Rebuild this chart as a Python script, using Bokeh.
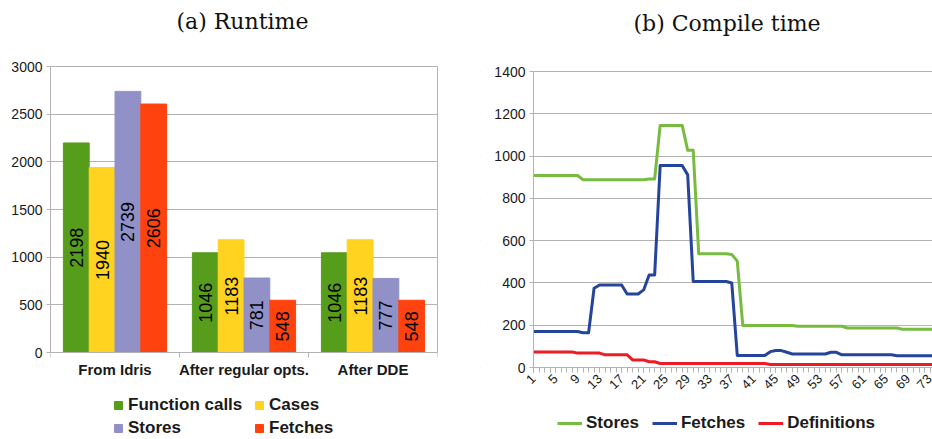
import numpy as np
from bokeh.plotting import figure
from bokeh.layouts import row
from bokeh.models import (ColumnDataSource, Range1d, FixedTicker, Legend, LegendItem, Label,
                          LinearAxis, BoxAnnotation)
from bokeh.transform import dodge
from bokeh.core.properties import value
from bokeh.embed import file_html
from bokeh.resources import INLINE

# ---------------- data: (a) Runtime ----------------
categories = ["From Idris", "After regular opts.", "After DDE"]
series_names = ["Function calls", "Cases", "Stores", "Fetches"]
function_calls = [2198, 1046, 1046]
cases = [1940, 1183, 1183]
stores_rt = [2739, 781, 777]
fetches_rt = [2606, 548, 548]
runtime_ticks = [0, 500, 1000, 1500, 2000, 2500, 3000]
bar_colors = ["#579d1c", "#ffd320", "#9191c8", "#ff420e"]

# ---------------- data: (b) Compile time ----------------
compile_index = list(range(1, 75))
stores_ct = ([908] * 9 + [888] * 12 + [892] * 2 + [1145] * 5 + [1027] * 2 + [538] * 6 + [535, 503]
             + [199] * 10 + [195] * 9 + [187] * 10 + [181] * 7)
fetches_ct = ([170] * 9 + [164] * 2 + [375] + [390] * 5 + [348] * 3 + [367] + [438] * 2 + [955] * 5 + [911]
              + [407] * 7 + [400] + [57] * 6 + [75] + [80] * 2 + [72] + [64] * 7 + [72] * 2 + [60] * 10 + [56] * 8)
definitions_ct = [73] * 8 + [68] * 5 + [60] * 5 + [36] * 3 + [27] * 2 + [19] * 20 + [14] * 31
compile_yticks = [0, 200, 400, 600, 800, 1000, 1200, 1400]
compile_xticks = list(range(1, 74, 4))
line_names = ["Stores", "Fetches", "Definitions"]
line_colors = ["#77bc41", "#25449b", "#ee1b24"]

GRID = "#b3b3b3"
TXT = "#1a1a1a"
SANS = "Liberation Sans"
SERIF = "DejaVu Serif"
H = 439

# ---------------- figure (a) ----------------
a_top_px, a_zero_px = 66, 352
a_scale = (a_zero_px - a_top_px) / 3000.0
pa = figure(width=480, height=H,
            x_range=Range1d(0, 3),
            y_range=Range1d(-(H - a_zero_px) / a_scale, 3000 + a_top_px / a_scale),
            output_backend="svg", toolbar_location=None,
            min_border_left=50, min_border_right=43, min_border_top=0, min_border_bottom=0)
pa.outline_line_color = None

xpos = list(np.arange(len(categories)) + 0.5)
src_a = ColumnDataSource(dict(x=xpos, fc=function_calls, ca=cases, st=stores_rt, fe=fetches_rt,
                              fc_h=[v / 2 for v in function_calls], ca_h=[v / 2 for v in cases],
                              st_h=[v / 2 for v in stores_rt], fe_h=[v / 2 for v in fetches_rt],
                              fc_t=[str(v) for v in function_calls], ca_t=[str(v) for v in cases],
                              st_t=[str(v) for v in stores_rt], fe_t=[str(v) for v in fetches_rt]))
cols = ["fc", "ca", "st", "fe"]
bw = 0.8 / len(cols)
offsets = [-0.4 + bw / 2 + k * bw for k in range(len(cols))]
bar_renderers = []
for k, c in enumerate(cols):
    r = pa.vbar(x=dodge("x", offsets[k], range=pa.x_range), top=c, width=bw, source=src_a,
                fill_color=bar_colors[k], line_color=bar_colors[k], line_width=1)
    bar_renderers.append(r)
    pa.text(x=dodge("x", offsets[k], range=pa.x_range), y=c + "_h", text=c + "_t", source=src_a,
            angle=np.pi / 2, text_align="center", text_baseline="middle",
            text_font=value(SANS), text_font_size="18px", text_color="black")

pa.xgrid.visible = False
pa.ygrid.grid_line_color = GRID
pa.ygrid.ticker = FixedTicker(ticks=runtime_ticks)
pa.yaxis.ticker = FixedTicker(ticks=runtime_ticks)
pa.yaxis.bounds = (0, 3000)
pa.yaxis.axis_line_color = GRID
pa.yaxis.major_tick_line_color = GRID
pa.yaxis.major_tick_out = 4
pa.yaxis.major_tick_in = 0
pa.yaxis.minor_tick_line_color = None
pa.yaxis.major_label_text_font = SANS
pa.yaxis.major_label_text_font_size = "14px"
pa.yaxis.major_label_text_color = TXT
pa.yaxis.major_label_standoff = 4

right_border = LinearAxis(ticker=FixedTicker(ticks=[]), bounds=(0, 3000), axis_line_color=GRID,
                          major_tick_line_color=None, minor_tick_line_color=None,
                          major_label_text_font_size="0px")
pa.add_layout(right_border, "right")

pa.xaxis.fixed_location = 0
pa.xaxis.ticker = FixedTicker(ticks=xpos, minor_ticks=[0, 1, 2, 3])
pa.xaxis.major_label_overrides = {float(x): c for x, c in zip(xpos, categories)}
pa.xaxis.axis_line_color = GRID
pa.xaxis.major_tick_line_color = None
pa.xaxis.major_tick_out = 0
pa.xaxis.major_tick_in = 0
pa.xaxis.minor_tick_line_color = GRID
pa.xaxis.minor_tick_out = 5
pa.xaxis.minor_tick_in = 0
pa.xaxis.major_label_text_font = SANS
pa.xaxis.major_label_text_font_size = "15px"
pa.xaxis.major_label_text_font_style = "bold"
pa.xaxis.major_label_text_color = TXT
pa.xaxis.major_label_standoff = 3

pa.add_layout(Label(x=126, y=H - 21, x_units="screen", y_units="screen", text="(a) Runtime",
                    text_font=SERIF, text_font_size="22px", text_color="#111111",
                    text_baseline="alphabetic"))

leg_a = Legend(items=[LegendItem(label=n, renderers=[r]) for n, r in zip(series_names, bar_renderers)],
               location=(63, 1), orientation="horizontal", ncols=2,
               border_line_color=None, background_fill_alpha=0, padding=0, margin=0,
               label_text_font=SANS, label_text_font_size="17px", label_text_font_style="bold",
               label_text_color=TXT, glyph_width=10, glyph_height=10, label_standoff=5,
               spacing=3, label_height=20, label_width=123)
pa.add_layout(leg_a, "center")

# ---------------- figure (b) ----------------
# plot area: x=1 at 53px from the figure's left edge; 0 at 367px, 1400 at 71px
b_top_px, b_zero_px = 71, 367
b_scale = (b_zero_px - b_top_px) / 1400.0
b_left_px, b_width = 53, 452
b_xend = 73.45
b_xscale = (b_width - b_left_px) / (b_xend - 1)
pb = figure(width=b_width, height=H,
            x_range=Range1d(1 - b_left_px / b_xscale, b_xend),
            y_range=Range1d(-(H - b_zero_px) / b_scale, 1400 + b_top_px / b_scale),
            output_backend="svg", toolbar_location=None,
            min_border_left=0, min_border_right=0, min_border_top=0, min_border_bottom=0)
pb.outline_line_color = None

pb.xgrid.visible = False
pb.ygrid.grid_line_color = GRID
pb.ygrid.ticker = FixedTicker(ticks=compile_yticks)
# white mask left of the y axis so the grid lines start at the axis
pb.add_layout(BoxAnnotation(right=1, fill_color="white", fill_alpha=1, line_color=None,
                            level="underlay"))

src_b = ColumnDataSource(dict(i=compile_index, st=stores_ct, fe=fetches_ct, de=definitions_ct))
line_renderers = []
for k, c in enumerate(["st", "fe", "de"]):
    r = pb.line(x="i", y=c, source=src_b, line_color=line_colors[k], line_width=3, line_join="round")
    line_renderers.append(r)

pb.yaxis.fixed_location = 1
pb.yaxis.ticker = FixedTicker(ticks=compile_yticks)
pb.yaxis.bounds = (0, 1400)
pb.yaxis.axis_line_color = GRID
pb.yaxis.major_tick_line_color = GRID
pb.yaxis.major_tick_out = 4
pb.yaxis.major_tick_in = 0
pb.yaxis.minor_tick_line_color = None
pb.yaxis.major_label_text_font = SANS
pb.yaxis.major_label_text_font_size = "14px"
pb.yaxis.major_label_text_color = TXT
pb.yaxis.major_label_standoff = 4

pb.xaxis.fixed_location = 0
pb.xaxis.bounds = (1, b_xend)
pb.xaxis.ticker = FixedTicker(ticks=compile_xticks, minor_ticks=compile_index)
pb.xaxis.axis_line_color = GRID
pb.xaxis.major_tick_line_color = GRID
pb.xaxis.major_tick_out = 5
pb.xaxis.major_tick_in = 0
pb.xaxis.minor_tick_line_color = GRID
pb.xaxis.minor_tick_out = 5
pb.xaxis.minor_tick_in = 0
pb.xaxis.major_label_orientation = np.pi / 4
pb.xaxis.major_label_text_font = SANS
pb.xaxis.major_label_text_font_size = "13px"
pb.xaxis.major_label_text_color = TXT
pb.xaxis.major_label_standoff = 4

pb.add_layout(Label(x=b_left_px + 100, y=H - 23, x_units="screen", y_units="screen",
                    text="(b) Compile time",
                    text_font=SERIF, text_font_size="22px", text_color="#111111",
                    text_baseline="alphabetic"))

leg_b = Legend(items=[LegendItem(label=n, renderers=[r]) for n, r in zip(line_names, line_renderers)],
               location=(b_left_px + 24, 6), orientation="horizontal",
               border_line_color=None, background_fill_alpha=0, padding=0, margin=0,
               label_text_font=SANS, label_text_font_size="17px", label_text_font_style="bold",
               label_text_color=TXT, glyph_width=25, glyph_height=20, label_standoff=4,
               spacing=13, label_height=20)
pb.add_layout(leg_b, "center")

layout = row(pa, pb)
open("out.html", "w").write(file_html(layout, INLINE))
